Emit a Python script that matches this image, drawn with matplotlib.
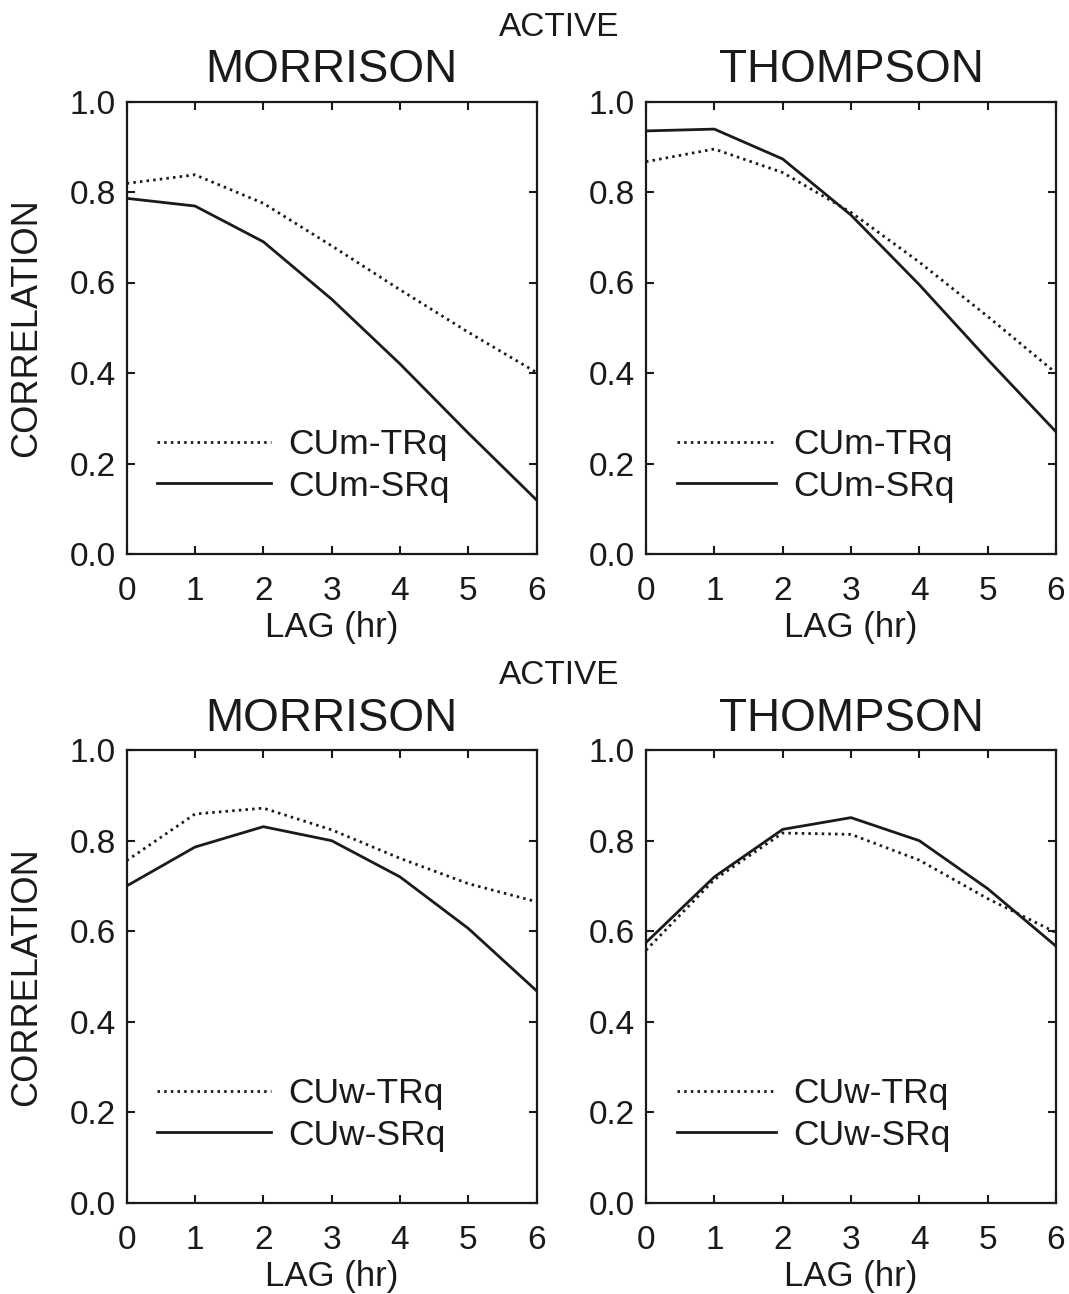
import matplotlib
matplotlib.use("Agg")
import matplotlib.pyplot as plt
import numpy as np

plt.rcParams['font.family'] = ['Liberation Sans', 'DejaVu Sans']

lag = [0, 1, 2, 3, 4, 5, 6]

# Top row (CUm)
morr_cum_trq = [0.819, 0.838, 0.775, 0.681, 0.584, 0.490, 0.401]
morr_cum_srq = [0.786, 0.769, 0.690, 0.563, 0.420, 0.267, 0.119]
thom_cum_trq = [0.867, 0.895, 0.843, 0.755, 0.645, 0.525, 0.400]
thom_cum_srq = [0.935, 0.939, 0.873, 0.749, 0.595, 0.430, 0.270]

# Bottom row (CUw)
morr_cuw_trq = [0.756, 0.859, 0.872, 0.824, 0.761, 0.705, 0.665]
morr_cuw_srq = [0.700, 0.786, 0.831, 0.800, 0.720, 0.606, 0.468]
thom_cuw_trq = [0.558, 0.714, 0.817, 0.814, 0.757, 0.672, 0.597]
thom_cuw_srq = [0.575, 0.720, 0.825, 0.851, 0.800, 0.694, 0.567]

yticks = [0.0, 0.2, 0.4, 0.6, 0.8, 1.0]
ytick_labels = ["0.0", "0.2", "0.4", "0.6", "0.8", "1.0"]

W, H = 1069, 1294
fig = plt.figure(figsize=(W / 100, H / 100), dpi=100)

ax_w = 410 / W
ax_h = 452.5 / H
lefts = [126.7 / W, 646 / W]
bottoms = [1 - 554 / H, 1 - 1202.7 / H]

panels = [
    (0, 0, "MORRISON", morr_cum_trq, morr_cum_srq, "CUm-TRq", "CUm-SRq", 3.2),
    (0, 1, "THOMPSON", thom_cum_trq, thom_cum_srq, "CUm-TRq", "CUm-SRq", 2.8),
    (1, 0, "MORRISON", morr_cuw_trq, morr_cuw_srq, "CUw-TRq", "CUw-SRq", 3.2),
    (1, 1, "THOMPSON", thom_cuw_trq, thom_cuw_srq, "CUw-TRq", "CUw-SRq", 2.8),
]

col = '#1a1a1a'
for r, c, title, trq, srq, l1, l2, hl in panels:
    ax = fig.add_axes([lefts[c], bottoms[r], ax_w, ax_h])
    ax.plot(lag, trq, color=col, lw=2.0, linestyle=(0, (0.9, 1.5)), label=l1)
    ax.plot(lag, srq, color=col, lw=2.0, linestyle='-', label=l2)
    ax.set_xlim(0, 6)
    ax.set_ylim(0, 1)
    ax.set_xticks(lag)
    ax.set_xticklabels([str(v) for v in lag])
    ax.set_yticks(yticks)
    ax.set_yticklabels(ytick_labels)
    ax.tick_params(direction='in', length=5.5, width=1.5, top=True, right=True,
                   labelsize=24, colors=col)
    ax.tick_params(axis='x', pad=16)
    ax.tick_params(axis='y', pad=8)
    for s in ax.spines.values():
        s.set_linewidth(1.6)
        s.set_color(col)
    ax.set_title(title, fontsize=33, pad=14, color=col)
    ax.set_xlabel("LAG (hr)", fontsize=25, labelpad=3, color=col)
    if c == 0:
        ax.set_ylabel("CORRELATION", fontsize=26, labelpad=18, color=col)
    leg = ax.legend(loc='lower left', bbox_to_anchor=(0.075, 0.113), frameon=False,
                    fontsize=25.5, handlelength=hl, handletextpad=0.5,
                    labelspacing=0.24, borderpad=0, borderaxespad=0)
    for t in leg.get_texts():
        t.set_color(col)

fig.text(559 / W, 1 - 36 / H, "ACTIVE", fontsize=24, ha='center', va='baseline', color=col)
fig.text(559 / W, 1 - 684 / H, "ACTIVE", fontsize=24, ha='center', va='baseline', color=col)

fig.savefig("out.png", dpi=100)
